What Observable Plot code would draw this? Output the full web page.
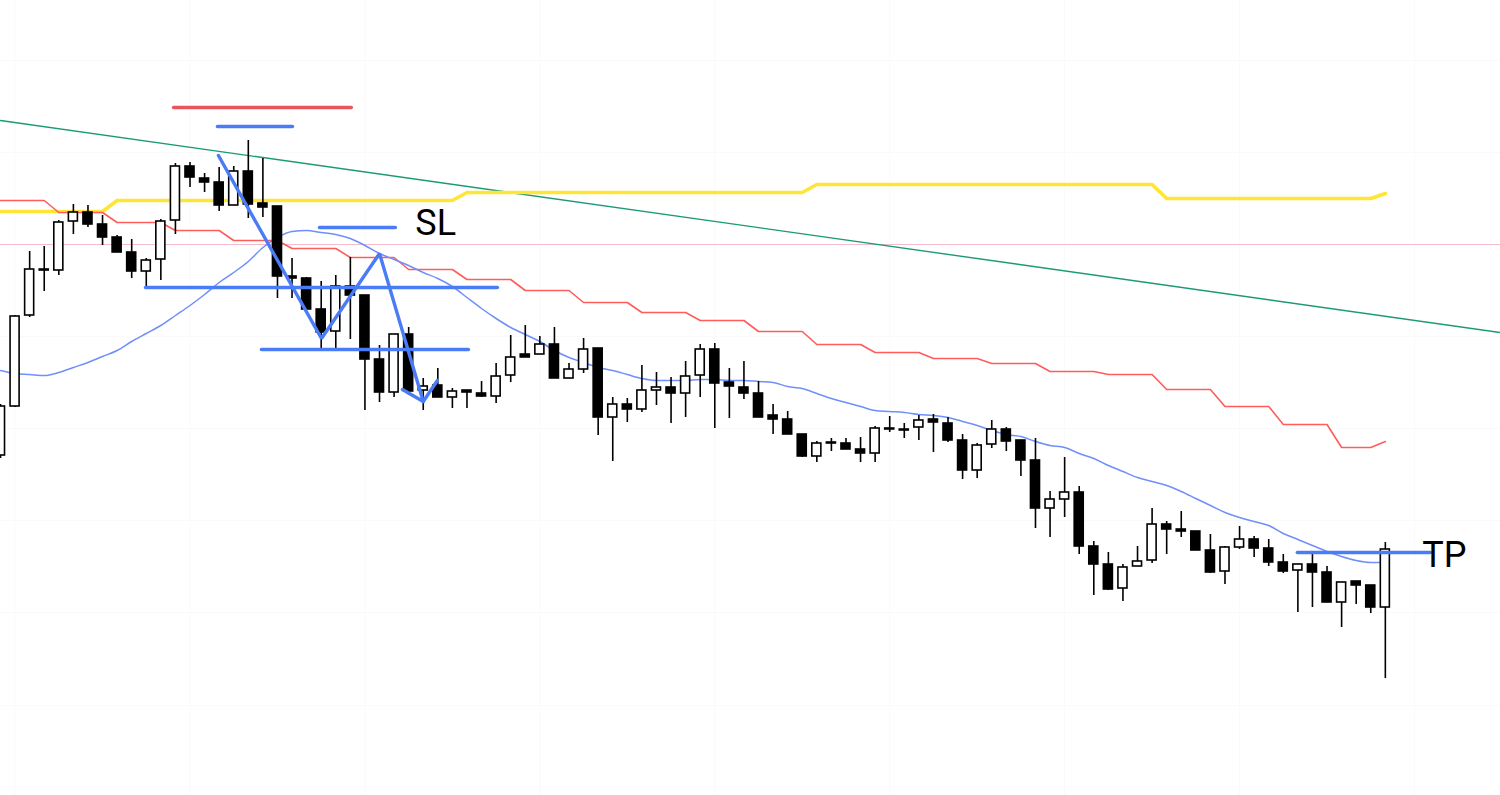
<!DOCTYPE html>
<html>
<head>
<meta charset="utf-8">
<script src="https://cdn.jsdelivr.net/npm/d3@7"></script>
<script src="https://cdn.jsdelivr.net/npm/@observablehq/plot@0.6"></script>
<style>
html, body { margin: 0; padding: 0; background: #fff; overflow: hidden; }
#chart svg { display: block; }
</style>
</head>
<body>
<div id="chart"></div>
<script>
// Price levels in chart units (a larger number = a lower price).
const open  = [455,406,315,270,270,221,212,224,237,252,271,259,220,166,178,182,205,171,203,206,276,278,309,331,286,295,359,392,334,390,385,397,390,393,396,375,354,354,344,378,369,348,417,404,409,390,387,393,375,349,382,387,393,415,419,434,456,442,443,449,453,428,429,427,419,423,440,470,444,429,440,460,508,499,492,546,564,588,566,560,524,529,531,550,571,547,539,548,562,570,564,572,602,581,585,607];
const high  = [404,315,251,246,220,204,205,215,235,239,258,219,163,162,173,167,166,140,158,206,258,277,281,275,257,295,345,334,327,378,368,388,390,381,363,335,325,336,327,363,338,348,397,398,365,372,377,361,344,343,368,361,381,404,411,434,441,438,438,437,426,416,423,415,414,417,434,443,420,427,440,438,491,457,486,541,552,564,546,508,521,511,531,534,546,526,536,539,554,564,554,566,582,581,585,542];
const low   = [458,407,317,291,275,234,227,245,252,278,287,280,234,187,192,211,205,218,217,298,298,309,348,348,339,410,402,397,395,410,397,408,408,397,403,382,357,354,378,378,373,435,461,422,412,405,423,417,397,428,418,399,417,434,434,457,462,451,449,462,462,432,438,440,452,442,479,478,448,451,476,528,537,517,554,595,590,601,566,563,554,537,550,573,584,549,557,566,573,612,607,602,627,604,613,678];
const close = [406,316,269,269,222,212,224,237,252,271,260,221,166,177,182,205,171,204,207,276,278,309,332,286,295,359,392,334,391,386,397,391,392,396,376,357,357,344,378,369,349,417,404,409,390,387,393,376,349,383,386,393,417,419,434,456,443,442,449,453,428,428,429,420,422,440,470,445,429,441,460,508,499,492,546,564,589,567,561,524,529,531,550,572,547,539,548,562,571,564,572,602,582,585,607,549];

// Indicator lines, one value per candle
const maLine = [370,373,374,375,372,367,362,356,350,341,333,325,315,305,294,282,272,261,247,237,231,230,232,234,238,245,253,259,265,272,278,286,297,308,318,327,334,341,350,357,362,367,370,374,378,380,380,380,379,379,380,380,381,382,386,388,393,398,402,406,410,411,412,414,415,417,421,425,430,434,436,441,445,447,453,458,465,471,477,481,485,491,498,505,512,517,521,525,533,539,545,551,556,560,562,562];
const redLine = [200,200,200,200,212,212,212,212,222,222,222,222,230,230,230,230,240,240,240,240,248,248,248,248,257,257,257,257,269,269,269,269,279,279,279,279,290,290,290,290,302,302,302,302,312,312,312,312,320,320,320,320,331,331,331,331,344,344,344,344,352,352,352,352,358,358,358,358,363,363,363,363,371,371,371,371,374,374,374,374,389,389,389,389,406,406,406,406,424,424,424,424,447,447,447,441];
const yellowLine = [211,211,211,211,211,211,211,211,200,200,200,200,200,200,200,200,200,200,200,200,200,200,200,200,200,200,200,200,200,200,200,200,192,192,192,192,192,192,192,192,192,192,192,192,192,192,192,192,192,192,192,192,192,192,192,192,184,184,184,184,184,184,184,184,184,184,184,184,184,184,184,184,184,184,184,184,184,184,184,184,198,198,198,198,198,198,198,198,198,198,198,198,198,198,198,193];

// Trend line (candle index, level)
const trendIdx = [0, 102.9];
const trendLvl = [120, 332];
const pinkLevel = 244;

// Faint grid
const gridIdx = [1, 13, 25, 37, 49, 61, 73, 85, 97];
const gridLvl = [60, 152, 336, 428, 520, 612, 705];

// Drawn annotations (candle index, level)
const segNames = ["redTop", "blueTop", "SL", "neck", "low", "TP"];
const segStart = [11.87, 14.88, 21.88, 9.95, 17.9, 88.96];
const segEnd   = [24.07, 20.03, 27.09, 34.09, 32.1, 98.08];
const segLevel = [107, 126, 227, 287, 349, 552];
const segColor = ["#e8565c", "#4a7cf5", "#4a7cf5", "#4a7cf5", "#4a7cf5", "#4a7cf5"];

const zigIdx = [14.95, 22.02, 26.0, 29.0];
const zigLvl = [155, 338, 253, 401];
const arrowIdx = [27.57, 29.0, 29.97];
const arrowLvl = [389, 401, 380];

const labels = ["SL", "TP"];
const labelIdx = [28.46, 97.53];
const labelLvl = [223, 555];

// ---- build tables
const candles = open.map((o, i) => ({i, o, h: high[i], l: low[i], c: close[i], up: close[i] <= o}));
const series = (arr) => arr.map((v, i) => ({i, v}));
const trend = trendIdx.map((i, k) => ({i, v: trendLvl[k]}));
const segs = segNames.flatMap((n, k) => [
  {n, i: segStart[k], v: segLevel[k], color: segColor[k]},
  {n, i: segEnd[k], v: segLevel[k], color: segColor[k]}
]);
const zig = zigIdx.map((i, k) => ({i, v: zigLvl[k]}));
const arrow = arrowIdx.map((i, k) => ({i, v: arrowLvl[k]}));
const lab = labels.map((t, k) => ({t, i: labelIdx[k], v: labelLvl[k]}));

const chart = Plot.plot({
  width: 1500,
  height: 795,
  margin: 0,
  style: {background: "#fff", overflow: "visible"},
  x: {domain: [0, 102.9], range: [0, 1500], axis: null},
  y: {domain: [0, 795], range: [0, 795], axis: null},
  marks: [
    Plot.ruleX(gridIdx, {stroke: "#fafafa", strokeWidth: 1}),
    Plot.ruleY(gridLvl, {stroke: "#fafafa", strokeWidth: 1}),
    Plot.ruleY([pinkLevel], {stroke: "#f5bccb", strokeWidth: 1.2}),
    Plot.line(trend, {x: "i", y: "v", stroke: "#1b9a78", strokeWidth: 1.4, clip: true}),
    Plot.line(series(yellowLine), {x: "i", y: "v", stroke: "#ffe535", strokeWidth: 3.6}),
    Plot.line(series(redLine), {x: "i", y: "v", stroke: "#ff5c5c", strokeWidth: 1.6}),
    Plot.line(series(maLine), {x: "i", y: "v", stroke: "#6f8ffa", strokeWidth: 1.5, curve: "monotone-x"}),
    Plot.ruleX(candles, {x: "i", y1: "h", y2: "l", stroke: "#000", strokeWidth: 1.6}),
    Plot.rect(candles, {
      x1: d => d.i - 0.31,
      x2: d => d.i + 0.31,
      y1: "o",
      y2: d => Math.abs(d.o - d.c) < 1 ? d.o + 1 : d.c,
      fill: d => d.up ? "#fff" : "#000",
      stroke: "#000",
      strokeWidth: 1.6
    }),
    Plot.line(segs, {x: "i", y: "v", z: "n", stroke: "color", strokeWidth: 3.4}),
    Plot.line(zig, {x: "i", y: "v", stroke: "#4a7cf5", strokeWidth: 3.4, strokeLinejoin: "miter"}),
    Plot.line(arrow, {x: "i", y: "v", stroke: "#4a7cf5", strokeWidth: 3.4}),
    Plot.text(lab, {x: "i", y: "v", text: "t", textAnchor: "start", fontSize: 36, fontFamily: "Roboto, 'Noto Sans', sans-serif", fill: "#000"})
  ]
});
document.getElementById("chart").appendChild(chart);
</script>
</body>
</html>
